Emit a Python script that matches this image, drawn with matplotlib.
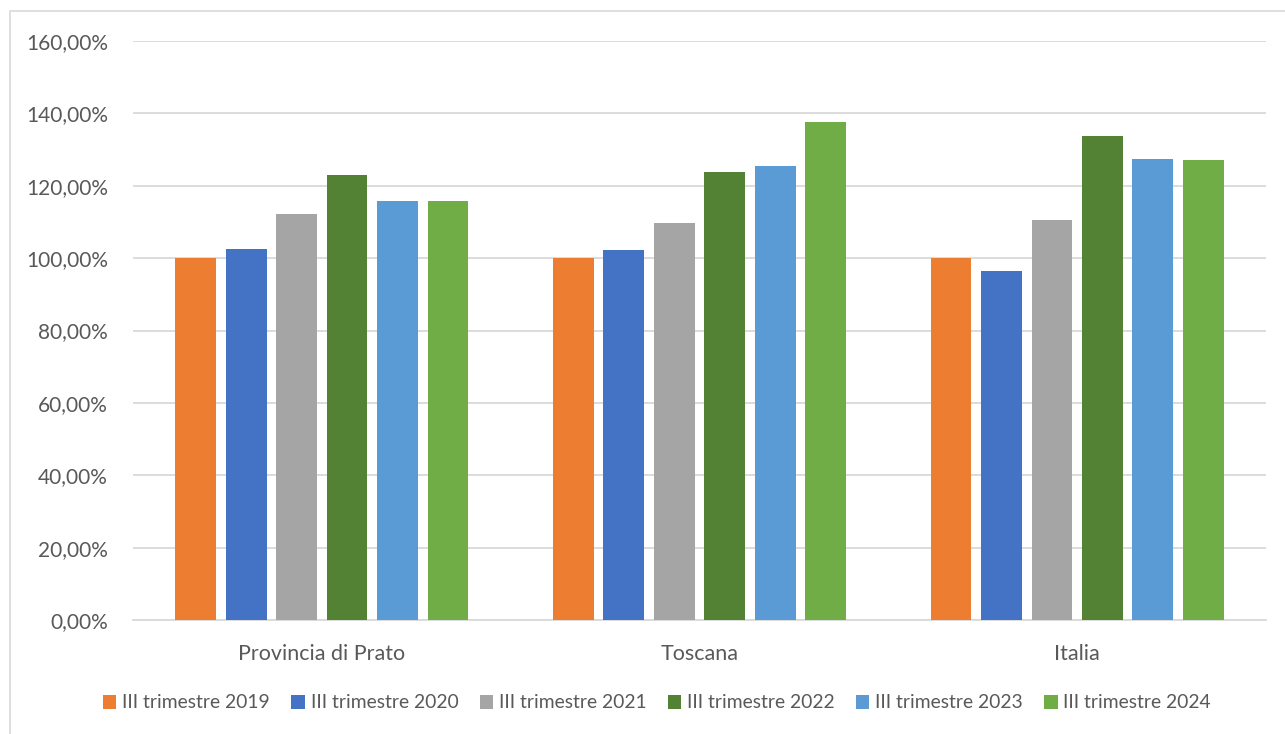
import numpy as np
import matplotlib.pyplot as plt
from matplotlib.patches import Rectangle
from matplotlib.ticker import FuncFormatter

# Dati: indice (III trimestre 2019 = 100%)
CATEGORIE = ["Provincia di Prato", "Toscana", "Italia"]
SERIE = ["III trimestre 2019", "III trimestre 2020", "III trimestre 2021",
         "III trimestre 2022", "III trimestre 2023", "III trimestre 2024"]
T2019 = [100.0, 100.0, 100.0]
T2020 = [102.6, 102.3, 96.4]
T2021 = [112.1, 109.6, 110.5]
T2022 = [123.0, 123.9, 133.7]
T2023 = [115.9, 125.4, 127.4]
T2024 = [115.9, 137.5, 127.2]
VALORI = [T2019, T2020, T2021, T2022, T2023, T2024]

COLORI = ["#ED7D31", "#4472C4", "#A5A5A5", "#548235", "#5B9BD5", "#70AD47"]
TESTO = "#595959"
GRIGLIA = "#D9D9D9"

plt.rcParams["font.family"] = ["Lato", "DejaVu Sans"]

fig = plt.figure(figsize=(12.85, 7.34), dpi=100)
ax = fig.add_axes([133 / 1285, 1 - 620 / 734, (1266 - 133) / 1285, (620 - 41) / 734])

# cornice esterna del grafico
fig.patches.append(Rectangle((10 / 1285, -0.01), 1.02, 1 - 11 / 734 + 0.01,
                             transform=fig.transFigure, fill=False,
                             edgecolor="#D9D9D9", linewidth=1.2))

x = np.arange(len(CATEGORIE))
passo = 0.1336
larghezza = 0.108
for i, (nome, vals, col) in enumerate(zip(SERIE, VALORI, COLORI)):
    ax.bar(x + (i - 2.5) * passo, vals, width=larghezza, color=col,
           label=nome, zorder=3)

ax.set_xlim(-0.5, 2.5)
ax.set_ylim(0, 160)
ax.set_yticks(np.arange(0, 161, 20))
ax.yaxis.set_major_formatter(FuncFormatter(lambda v, p: f"{v:.2f}%".replace(".", ",")))
ax.set_xticks(x)
ax.set_xticklabels(CATEGORIE)
ax.grid(axis="y", color=GRIGLIA, linewidth=1.3, zorder=0)
for s in ["top", "right", "left"]:
    ax.spines[s].set_visible(False)
ax.spines["bottom"].set_color(GRIGLIA)
ax.spines["bottom"].set_linewidth(1.3)
ax.tick_params(axis="both", length=0, colors=TESTO, labelsize=15.5)
ax.tick_params(axis="y", pad=18, labelsize=15)
ax.tick_params(axis="x", pad=17)

fig.legend(loc="center", bbox_to_anchor=(657 / 1285, 1 - 703 / 734), ncol=6,
           frameon=False, fontsize=13.9, handlelength=0.7, handleheight=0.7,
           handletextpad=0.3, columnspacing=1.1, labelcolor=TESTO)

fig.savefig("out.png", dpi=100, facecolor="white")
